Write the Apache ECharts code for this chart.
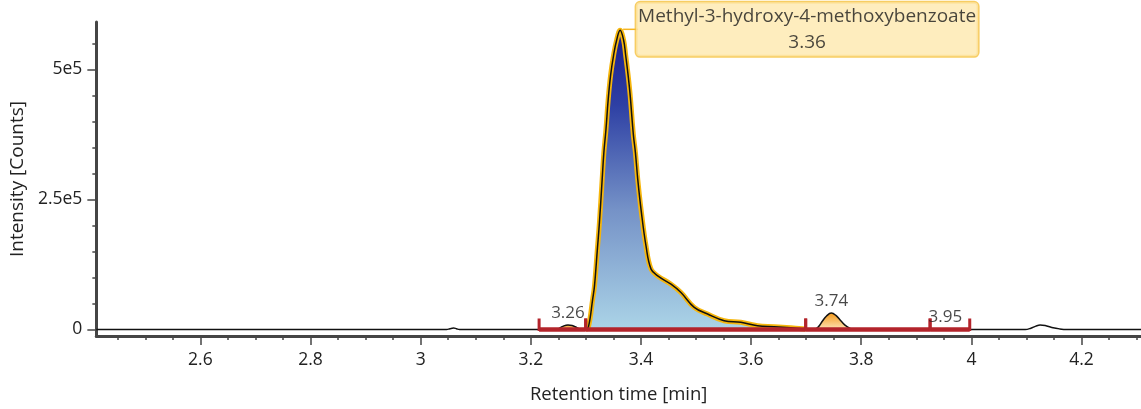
<!DOCTYPE html>
<html><head><meta charset="utf-8">
<script src="https://cdn.jsdelivr.net/npm/echarts@6/dist/echarts.min.js"></script>
<style>html,body{margin:0;padding:0;background:#fff}#c{width:1141px;height:409px}</style>
</head><body><div id="c"></div>
<script>
// ---- data ----
const traceTime = [2.411, 3.047, 3.053, 3.0596, 3.065, 3.0705,
  3.2462, 3.253, 3.260, 3.2674, 3.275, 3.283, 3.2915,
  3.2996, 3.3047, 3.3123, 3.3156, 3.3208, 3.3246, 3.3295, 3.3326, 3.3364, 3.3404, 3.3449, 3.3504, 3.3558, 3.3621,
  3.3685, 3.3721, 3.3766, 3.3803, 3.3862, 3.3899, 3.3942, 3.4002, 3.4092, 3.4183, 3.4304, 3.4545, 3.4726, 3.4967,
  3.5210, 3.5511, 3.5813, 3.6116, 3.6417, 3.6719, 3.6991,
  3.7141, 3.722, 3.7293, 3.737, 3.7456, 3.754, 3.7638, 3.773, 3.7866,
  3.940, 3.9527, 3.966,
  4.0977, 4.108, 4.117, 4.1248, 4.134, 4.146, 4.160, 4.1737, 4.308];
const traceIntensity = [0, 0, 1500, 2800, 1500, 0,
  0, 3000, 7000, 8600, 7500, 4000, 0,
  0, 5400, 58400, 83800, 154000, 206000, 288000, 340000, 384000, 441000, 489000, 528000, 556000, 575000,
  556000, 528000, 489000, 451000, 374000, 340000, 288000, 230000, 160000, 116000, 103000, 87000, 71000, 42500,
  29700, 16900, 13800, 7300, 5400, 3300, 1000,
  0, 5000, 15800, 26000, 31600, 27000, 15800, 6500, 0,
  0, 800, 0,
  0, 2500, 6500, 8700, 7500, 4000, 1200, 0, 0];

const mainPeakRange = [3.2996, 3.6991];
const minorPeakRanges = [[3.2462, 3.2915], [3.7141, 3.7866]];
const integrationBounds = [3.215, 3.2996, 3.6991, 3.925, 3.997];

const peakLabelTimes = [3.2674, 3.7456, 3.9527];
const peakLabelHeights = [8600, 31600, 800];
const peakLabelTexts = ['3.26', '3.74', '3.95'];

const compoundName = 'Methyl-3-hydroxy-4-methoxybenzoate';
const compoundRT = '3.36';
const compoundApex = [3.3621, 575000];

const xMajorTicks = [2.6, 2.8, 3.0, 3.2, 3.4, 3.6, 3.8, 4.0, 4.2];
const xTickLabels = ['2.6', '2.8', '3', '3.2', '3.4', '3.6', '3.8', '4', '4.2'];
const xMinorTicks = [2.45, 2.5, 2.55, 2.65, 2.7, 2.75, 2.85, 2.9, 2.95, 3.05, 3.1, 3.15, 3.25, 3.3, 3.35,
  3.45, 3.5, 3.55, 3.65, 3.7, 3.75, 3.85, 3.9, 3.95, 4.05, 4.1, 4.15, 4.25, 4.3];
const yMajorTicks = [0, 250000, 500000];
const yTickLabels = ['0', '2.5e5', '5e5'];
const yMinorTicks = [50000, 100000, 150000, 200000, 300000, 350000, 400000, 450000, 550000];

const xRange = [2.411, 4.308];
const yRange = [-12500, 591000];

// ---- build series data ----
const trace = traceTime.map((t, i) => [t, traceIntensity[i]]);
const inRange = (r) => trace.filter(p => p[0] >= r[0] - 1e-9 && p[0] <= r[1] + 1e-9);
const mainPeak = inRange(mainPeakRange);
const segments = [];
for (let i = 0; i < integrationBounds.length - 1; i++) segments.push([integrationBounds[i], integrationBounds[i + 1]]);

const FONT = 'Open Sans';
const axisColor = '#454545';
const textColor = '#222222';
const RED = '#b3242b';

const chart = echarts.init(document.getElementById('c'), null, { renderer: 'canvas' });

function xLabelFmt(v) {
  const i = xMajorTicks.findIndex(t => Math.abs(t - v) < 1e-6);
  return i >= 0 ? xTickLabels[i] : '';
}
function yLabelFmt(v) {
  const i = yMajorTicks.findIndex(t => Math.abs(t - v) < 1e-6);
  return i >= 0 ? yTickLabels[i] : '';
}

const series = [];

minorPeakRanges.forEach(r => {
  series.push({
    type: 'line', data: inRange(r), smooth: 0.4, symbol: 'none', silent: true,
    lineStyle: { width: 0 },
    areaStyle: {
      color: new echarts.graphic.LinearGradient(0, 0, 0, 1, [
        { offset: 0, color: '#f49a1c' }, { offset: 1, color: '#fde4b8' }]),
      opacity: 1
    },
    z: 2
  });
});

series.push({
  type: 'line', data: mainPeak, smooth: 0.4, symbol: 'none', silent: true,
  lineStyle: { width: 5, color: '#f6b60c' },
  areaStyle: {
    color: new echarts.graphic.LinearGradient(0, 0, 0, 1, [
      { offset: 0, color: '#1a1c8a' }, { offset: 0.25, color: '#2e40a4' },
      { offset: 0.6, color: '#7592c7' }, { offset: 1, color: '#abd4e7' }]),
    opacity: 1
  },
  z: 3
});

series.push({
  type: 'line', data: trace, smooth: 0.4, symbol: 'none', silent: true,
  lineStyle: { width: 1.5, color: '#111111' }, z: 4
});

series.push({
  type: 'custom', data: segments, encode: { x: [0, 1] }, z: 5, silent: true,
  renderItem: function (params, api) {
    const s = api.coord([api.value(0), 0]);
    const e = api.coord([api.value(1), 0]);
    const y = s[1];
    return {
      type: 'group', children: [
        { type: 'line', shape: { x1: s[0], y1: y, x2: e[0], y2: y }, style: { stroke: RED, lineWidth: 4.5 } },
        { type: 'line', shape: { x1: s[0], y1: y + 1.5, x2: s[0], y2: y - 11 }, style: { stroke: RED, lineWidth: 3 } },
        { type: 'line', shape: { x1: e[0], y1: y + 1.5, x2: e[0], y2: y - 11 }, style: { stroke: RED, lineWidth: 3 } }
      ]
    };
  }
});

series.push({
  type: 'scatter', symbolSize: 0, z: 6, silent: true,
  data: peakLabelTimes.map((t, i) => ({ value: [t, peakLabelHeights[i]], name: peakLabelTexts[i] })),
  label: {
    show: true, position: 'top', distance: 3, formatter: '{b}',
    fontFamily: FONT, fontSize: 17, color: '#1a1a1a'
  }
});

// connector from apex to annotation box
series.push({
  type: 'custom', data: [compoundApex], encode: { x: 0, y: 1 }, z: 6, silent: true,
  renderItem: function (params, api) {
    const p = api.coord([api.value(0), api.value(1)]);
    return { type: 'line', shape: { x1: p[0] + 3, y1: p[1] - 1, x2: p[0] + 18, y2: p[1] - 1 },
      style: { stroke: '#f5b520', lineWidth: 1.5 } };
  }
});

series.push({
  type: 'scatter', symbolSize: 0, z: 7, silent: true,
  data: [{ value: compoundApex, name: compoundName }],
  label: {
    show: true, position: 'inside', align: 'center', verticalAlign: 'middle', offset: [187, -1],
    formatter: compoundName + '\n' + compoundRT,
    fontFamily: FONT, fontSize: 19, lineHeight: 26, color: '#1a1a1a',
    backgroundColor: '#fee9ae', borderColor: '#f5c03c', borderWidth: 1.5, borderRadius: 4,
    padding: [1, 2, 1, 2]
  }
});

chart.setOption({
  animation: false,
  backgroundColor: '#ffffff',
  grid: { left: 94, right: 0, top: 22, bottom: 72, containLabel: false },
  xAxis: [
    {
      type: 'value', min: xRange[0], max: xRange[1], position: 'bottom',
      name: 'Retention time [min]', nameLocation: 'middle', nameGap: 49,
      nameTextStyle: { fontFamily: FONT, fontSize: 18.5, color: textColor },
      axisLine: { show: true, onZero: false, lineStyle: { color: axisColor, width: 3 } },
      axisTick: { show: true, length: 9, customValues: xMajorTicks, lineStyle: { color: axisColor, width: 1.5 } },
      axisLabel: { show: true, customValues: xMajorTicks, formatter: xLabelFmt, margin: 15,
        fontFamily: FONT, fontSize: 17.5, color: textColor },
      splitLine: { show: false }
    },
    {
      type: 'value', min: xRange[0], max: xRange[1], position: 'bottom', offset: 0, gridIndex: 0,
      axisLine: { show: false, onZero: false },
      axisTick: { show: true, length: 4, customValues: xMinorTicks, lineStyle: { color: axisColor, width: 1.5 } },
      axisLabel: { show: false },
      splitLine: { show: false }
    }
  ],
  yAxis: [
    {
      type: 'value', min: yRange[0], max: yRange[1], position: 'left',
      name: 'Intensity [Counts]', nameLocation: 'middle', nameGap: 67,
      nameTextStyle: { fontFamily: FONT, fontSize: 19, color: textColor },
      axisLine: { show: true, onZero: false, lineStyle: { color: axisColor, width: 3 } },
      axisTick: { show: true, length: 9, customValues: yMajorTicks, lineStyle: { color: axisColor, width: 1.5 } },
      axisLabel: { show: true, customValues: yMajorTicks, formatter: yLabelFmt, margin: 14,
        fontFamily: FONT, fontSize: 17.5, color: textColor },
      splitLine: { show: false }
    },
    {
      type: 'value', min: yRange[0], max: yRange[1], position: 'left', offset: 0, gridIndex: 0,
      axisLine: { show: false, onZero: false },
      axisTick: { show: true, length: 4, customValues: yMinorTicks, lineStyle: { color: axisColor, width: 1.5 } },
      axisLabel: { show: false },
      splitLine: { show: false }
    }
  ],
  series: series
});
</script>
</body></html>
